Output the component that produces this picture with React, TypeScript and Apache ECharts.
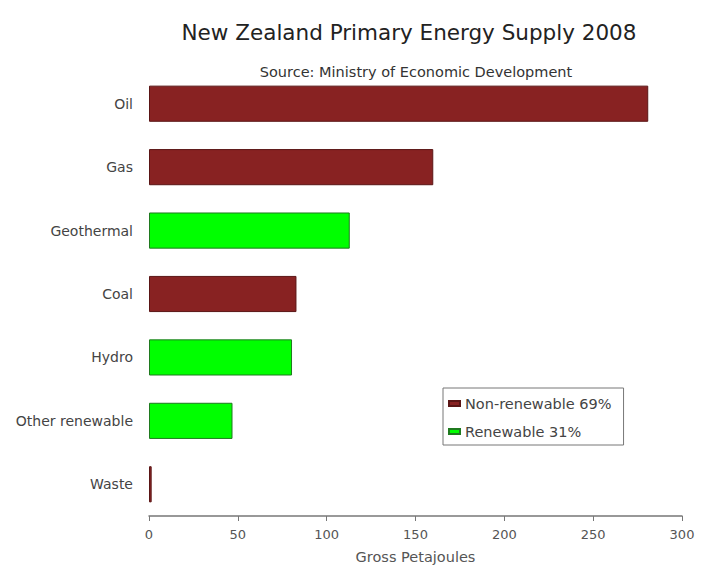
import React, { useEffect, useRef } from "react";
import * as echarts from "echarts";

const categories = ["Oil", "Gas", "Geothermal", "Coal", "Hydro", "Other renewable", "Waste"];
const nonRenewable: (number | null)[] = [281, 160, null, 83, null, null, 1.5];
const renewable: (number | null)[] = [null, null, 113, null, 80.5, 47, null];
const xTicks = { min: 0, max: 300, interval: 50 };

export default function App() {
  const ref = useRef<HTMLDivElement>(null);
  useEffect(() => {
    if (!ref.current) return;
    const chart = echarts.init(ref.current, null, { renderer: "svg" });
    const font = "DejaVu Sans";
    chart.setOption({
      animation: false,
      backgroundColor: "#ffffff",
      title: [
        {
          text: "New Zealand Primary Energy Supply 2008",
          left: 404,
          top: 16,
          textAlign: "center",
          textStyle: { fontFamily: font, fontSize: 21.5, fontWeight: "normal", color: "#222" },
        },
        {
          text: "Source: Ministry of Economic Development",
          left: 411,
          top: 59,
          textAlign: "center",
          textStyle: { fontFamily: font, fontSize: 14.5, fontWeight: "normal", color: "#333" },
        },
      ],
      legend: {
        orient: "vertical",
        left: 443,
        top: 388,
        padding: [8, 12, 6, 5],
        itemGap: 13,
        itemWidth: 11,
        itemHeight: 5,
        borderColor: "#777",
        borderWidth: 1,
        icon: "rect",
        textStyle: { fontFamily: font, fontSize: 14.5, color: "#444" },
        data: ["Non-renewable 69%", "Renewable 31%"],
      },
      grid: { left: 149, right: 19, top: 72, bottom: 65, containLabel: false },
      xAxis: {
        type: "value",
        min: xTicks.min,
        max: xTicks.max,
        interval: xTicks.interval,
        name: "Gross Petajoules",
        nameLocation: "middle",
        nameGap: 33,
        nameTextStyle: { fontFamily: font, fontSize: 14.5, color: "#555" },
        axisLine: { show: true, lineStyle: { color: "#777", width: 1.5 } },
        axisTick: { show: true, length: 5, inside: false, lineStyle: { color: "#777" } },
        axisLabel: { fontFamily: font, fontSize: 13, color: "#555", margin: 12 },
        splitLine: { show: false },
      },
      yAxis: {
        type: "category",
        data: categories,
        inverse: true,
        axisLine: { show: false },
        axisTick: { show: false },
        axisLabel: { fontFamily: font, fontSize: 14, color: "#444", margin: 16 },
      },
      series: [
        {
          name: "Non-renewable 69%",
          type: "bar",
          stack: "total",
          data: nonRenewable,
          barCategoryGap: "43%",
          itemStyle: { color: "#882222", borderColor: "#5a1515", borderWidth: 1 },
        },
        {
          name: "Renewable 31%",
          type: "bar",
          stack: "total",
          data: renewable,
          barCategoryGap: "43%",
          itemStyle: { color: "#00ff00", borderColor: "#1f7a1f", borderWidth: 1 },
        },
      ],
    });
    return () => chart.dispose();
  }, []);
  return (
    <div
      ref={ref}
      style={{ position: "fixed", left: 0, top: 0, width: 701, height: 581 }}
    />
  );
}
